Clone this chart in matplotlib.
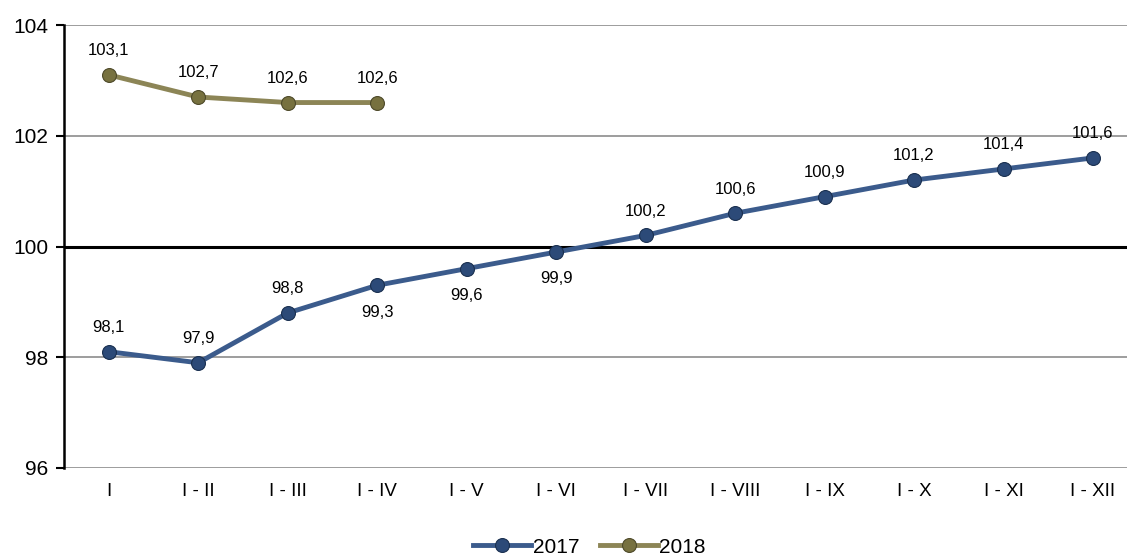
import matplotlib
matplotlib.use("Agg")
import matplotlib.pyplot as plt

plt.rcParams['font.family'] = ['Liberation Sans', 'DejaVu Sans']

periods = ['I', 'I - II', 'I - III', 'I - IV', 'I - V', 'I - VI', 'I - VII',
           'I - VIII', 'I - IX', 'I - X', 'I - XI', 'I - XII']
values_2017 = [98.1, 97.9, 98.8, 99.3, 99.6, 99.9, 100.2, 100.6, 100.9, 101.2, 101.4, 101.6]
values_2018 = [103.1, 102.7, 102.6, 102.6]
below_2017 = [3, 4, 5]  # labels placed under the point

c17 = '#3b5b8c'
c18 = '#8c8556'

fig = plt.figure(figsize=(11.27, 5.56), dpi=100)
ax = fig.add_axes([0.0568, 0.1583, 0.9432, 0.7967])

x17 = list(range(len(values_2017)))
x18 = list(range(len(values_2018)))

ax.plot(x17, values_2017, color=c17, lw=3.5, marker='o', ms=10,
        mfc='#2c4a78', mec='#1a3050', mew=0.8, label='2017', zorder=4)
ax.plot(x18, values_2018, color=c18, lw=3.5, marker='o', ms=10,
        mfc='#77713f', mec='#4e4a2a', mew=0.8, label='2018', zorder=4)

def fmt(v):
    return f"{v:.1f}".replace('.', ',')

for i, v in enumerate(values_2017):
    if i in below_2017:
        ax.annotate(fmt(v), (i, v), xytext=(0, -14), textcoords='offset points',
                    ha='center', va='top', fontsize=12)
    else:
        ax.annotate(fmt(v), (i, v), xytext=(0, 12), textcoords='offset points',
                    ha='center', va='bottom', fontsize=12)
for i, v in enumerate(values_2018):
    ax.annotate(fmt(v), (i, v), xytext=(0, 12), textcoords='offset points',
                ha='center', va='bottom', fontsize=12)

ax.set_ylim(96, 104)
ax.set_yticks([96, 98, 100, 102, 104])
ax.set_xlim(-0.5, 11.38)
ax.set_xticks(x17)
ax.set_xticklabels(periods, fontsize=13.5)
ax.tick_params(axis='y', labelsize=15, direction='out', length=6, width=1.5,
               color='black', pad=5)
ax.tick_params(axis='x', length=0, pad=11)

for y in [96, 98, 102, 104]:
    ax.axhline(y, color='#8c8c8c', lw=1.2, zorder=1)
ax.axhline(100, color='black', lw=2.2, zorder=2)

for s in ['top', 'right', 'bottom']:
    ax.spines[s].set_visible(False)
ax.spines['left'].set_linewidth(1.8)

fig.legend(loc='lower center', bbox_to_anchor=(0.523, -0.035), ncol=2, frameon=False,
           fontsize=15, handlelength=2.8, handletextpad=0.05, columnspacing=1.0)

fig.savefig('out.png', dpi=100)
